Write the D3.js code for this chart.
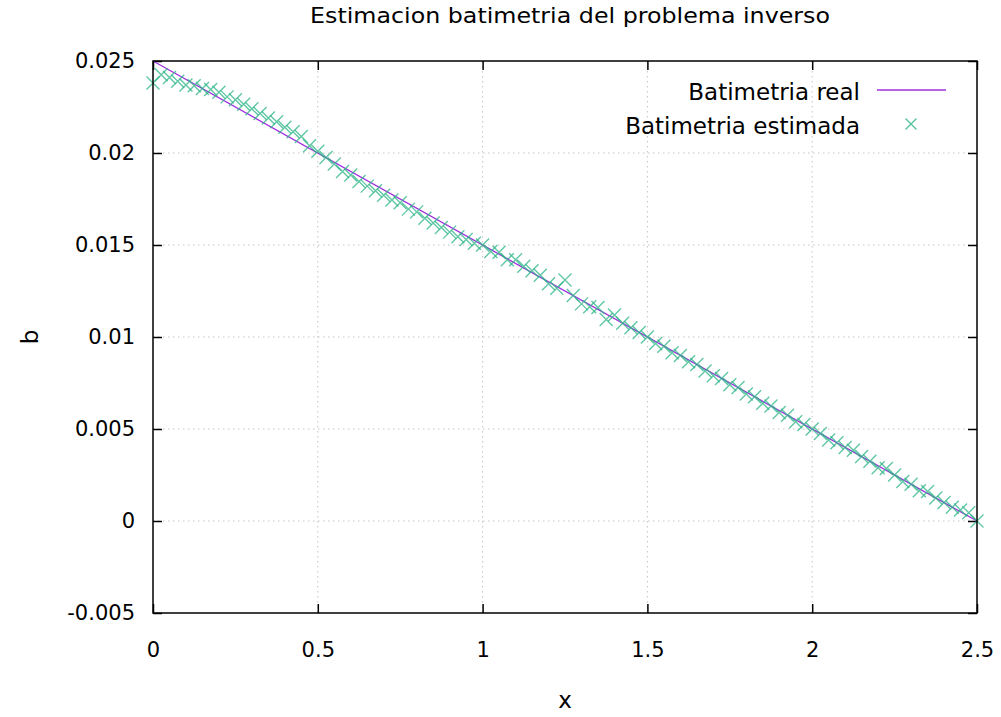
<!DOCTYPE html>
<html>
<head>
<meta charset="utf-8">
<script src="https://cdn.jsdelivr.net/npm/d3@7"></script>
<style>
  body { margin: 0; background: #fff; }
  text { font-family: "DejaVu Sans", Verdana, sans-serif; fill: #000; }
</style>
</head>
<body>
<svg id="chart" width="1001" height="717"></svg>
<script>
// bathymetry: true line and inverse-problem estimate
const xReal = [0, 2.5];
const bReal = [0.025, 0];

const xEst = [
  0, 0.025, 0.05, 0.075, 0.1, 0.125, 0.15, 0.175, 0.2, 0.225,
  0.25, 0.275, 0.3, 0.325, 0.35, 0.375, 0.4, 0.425, 0.45, 0.475,
  0.5, 0.525, 0.55, 0.575, 0.6, 0.625, 0.65, 0.675, 0.7, 0.725,
  0.75, 0.775, 0.8, 0.825, 0.85, 0.875, 0.9, 0.925, 0.95, 0.975,
  1, 1.025, 1.05, 1.075, 1.1, 1.125, 1.15, 1.175, 1.2, 1.225,
  1.25, 1.275, 1.3, 1.325, 1.35, 1.375, 1.4, 1.425, 1.45, 1.475,
  1.5, 1.525, 1.55, 1.575, 1.6, 1.625, 1.65, 1.675, 1.7, 1.725,
  1.75, 1.775, 1.8, 1.825, 1.85, 1.875, 1.9, 1.925, 1.95, 1.975,
  2, 2.025, 2.05, 2.075, 2.1, 2.125, 2.15, 2.175, 2.2, 2.225,
  2.25, 2.275, 2.3, 2.325, 2.35, 2.375, 2.4, 2.425, 2.45, 2.475,
  2.5
];
const bEst = [
  0.0238, 0.02425, 0.0241, 0.0239, 0.0237, 0.02365, 0.0235, 0.02345, 0.0233, 0.02305,
  0.0229, 0.02265, 0.0224, 0.02215, 0.0219, 0.0217, 0.0214, 0.02115, 0.0209, 0.0204,
  0.0201, 0.01975, 0.0194, 0.0190, 0.0188, 0.01845, 0.0182, 0.01795, 0.0177, 0.01745,
  0.0173, 0.01695, 0.0168, 0.01645, 0.0162, 0.01595, 0.0157, 0.01545, 0.0153, 0.0151,
  0.0150, 0.01465, 0.0146, 0.0142, 0.0142, 0.01385, 0.0136, 0.01335, 0.0129, 0.01265,
  0.0131, 0.01225, 0.0118, 0.01165, 0.0116, 0.01095, 0.0112, 0.01075, 0.0105, 0.01025,
  0.0100, 0.00965, 0.0095, 0.00915, 0.0090, 0.00865, 0.0085, 0.00815, 0.0079, 0.00775,
  0.0074, 0.00725, 0.0069, 0.00675, 0.0064, 0.00625, 0.0059, 0.00575, 0.0054, 0.00525,
  0.0050, 0.00475, 0.0044, 0.00425, 0.0040, 0.00385, 0.0035, 0.00325, 0.0029, 0.00285,
  0.0025, 0.00215, 0.0020, 0.00165, 0.0016, 0.00125, 0.0010, 0.00075, 0.0006, 0.00045,
  0.0
];

const xTicks = [0, 0.5, 1, 1.5, 2, 2.5];
const xTickLabels = ["0", "0.5", "1", "1.5", "2", "2.5"];
const yTicks = [-0.005, 0, 0.005, 0.01, 0.015, 0.02, 0.025];
const yTickLabels = ["-0.005", "0", "0.005", "0.01", "0.015", "0.02", "0.025"];
const seriesNames = ["Batimetria real", "Batimetria estimada"];

const svg = d3.select("#chart");
const pLeft = 153, pRight = 977, pTop = 61, pBottom = 613;

const x = d3.scaleLinear().domain([0, 2.5]).range([pLeft, pRight]);
const y = d3.scaleLinear().domain([-0.005, 0.025]).range([pBottom, pTop]);

// grid
const grid = svg.append("g").attr("stroke", "#c4c4c4").attr("stroke-width", 1).attr("stroke-dasharray", "1.5,3.5");
grid.selectAll(".gx").data(xTicks.slice(1, -1)).enter().append("line")
  .attr("x1", d => x(d)).attr("x2", d => x(d)).attr("y1", pTop).attr("y2", pBottom);
grid.selectAll(".gy").data(yTicks.slice(1, -1)).enter().append("line")
  .attr("x1", pLeft).attr("x2", pRight).attr("y1", d => y(d)).attr("y2", d => y(d));

// axes with inward ticks, mirrored on top/right
const fmtX = (d, i) => xTickLabels[i];
const fmtY = (d, i) => yTickLabels[i];
const styleAxis = g => {
  g.select(".domain").remove();
  g.selectAll(".tick line").attr("stroke", "#000").attr("stroke-width", 1.5);
  g.selectAll(".tick text").style("font-family", "'DejaVu Sans', Verdana, sans-serif").style("font-size", "21px").attr("fill", "#000");
};
svg.append("g").attr("transform", `translate(0,${pBottom})`)
  .call(d3.axisBottom(x).tickValues(xTicks).tickFormat(fmtX).tickSizeInner(-9).tickPadding(29))
  .call(styleAxis);
svg.append("g").attr("transform", `translate(0,${pTop})`)
  .call(d3.axisTop(x).tickValues(xTicks).tickFormat("").tickSizeInner(-9))
  .call(styleAxis);
svg.append("g").attr("transform", `translate(${pLeft},0)`)
  .call(d3.axisLeft(y).tickValues(yTicks).tickFormat(fmtY).tickSizeInner(-9).tickPadding(18))
  .call(styleAxis);
svg.append("g").attr("transform", `translate(${pRight},0)`)
  .call(d3.axisRight(y).tickValues(yTicks).tickFormat("").tickSizeInner(-9))
  .call(styleAxis);

// real line
const line = d3.line().x((d, i) => x(xReal[i])).y(d => y(d));
svg.append("path").datum(bReal).attr("d", line)
  .attr("fill", "none").attr("stroke", "#a030e0").attr("stroke-width", 1.3);

// estimated points as crosses
const cross = (cx, cy, s) => `M${cx - s},${cy - s}L${cx + s},${cy + s}M${cx - s},${cy + s}L${cx + s},${cy - s}`;
svg.append("g").selectAll("path").data(bEst).enter().append("path")
  .attr("d", (d, i) => cross(x(xEst[i]), y(d), 6.5))
  .attr("stroke", "#2bb487").attr("stroke-opacity", 0.75).attr("stroke-width", 1.4).attr("fill", "none");

// frame
svg.append("rect").attr("x", pLeft).attr("y", pTop).attr("width", pRight - pLeft).attr("height", pBottom - pTop)
  .attr("fill", "none").attr("stroke", "#000").attr("stroke-width", 1.5);

// title and axis labels
svg.append("text").attr("x", 570).attr("y", 23).attr("text-anchor", "middle")
  .style("font-size", "22px").attr("textLength", 520).attr("lengthAdjust", "spacingAndGlyphs")
  .text("Estimacion batimetria del problema inverso");
svg.append("text").attr("x", 565).attr("y", 708).attr("text-anchor", "middle")
  .style("font-size", "23px").text("x");
svg.append("text").attr("transform", "translate(38,337) rotate(-90)").attr("text-anchor", "middle")
  .style("font-size", "23px").text("b");

// legend
const leg = svg.append("g");
leg.append("text").attr("x", 860).attr("y", 100).attr("text-anchor", "end").style("font-size", "23px").text(seriesNames[0]);
leg.append("line").attr("x1", 877).attr("x2", 946).attr("y1", 90).attr("y2", 90)
  .attr("stroke", "#a030e0").attr("stroke-width", 1.3);
leg.append("text").attr("x", 860).attr("y", 134).attr("text-anchor", "end").style("font-size", "23px").text(seriesNames[1]);
leg.append("path").attr("d", cross(911, 124, 5.5))
  .attr("stroke", "#2bb487").attr("stroke-opacity", 0.8).attr("stroke-width", 1.4).attr("fill", "none");
</script>
</body>
</html>
